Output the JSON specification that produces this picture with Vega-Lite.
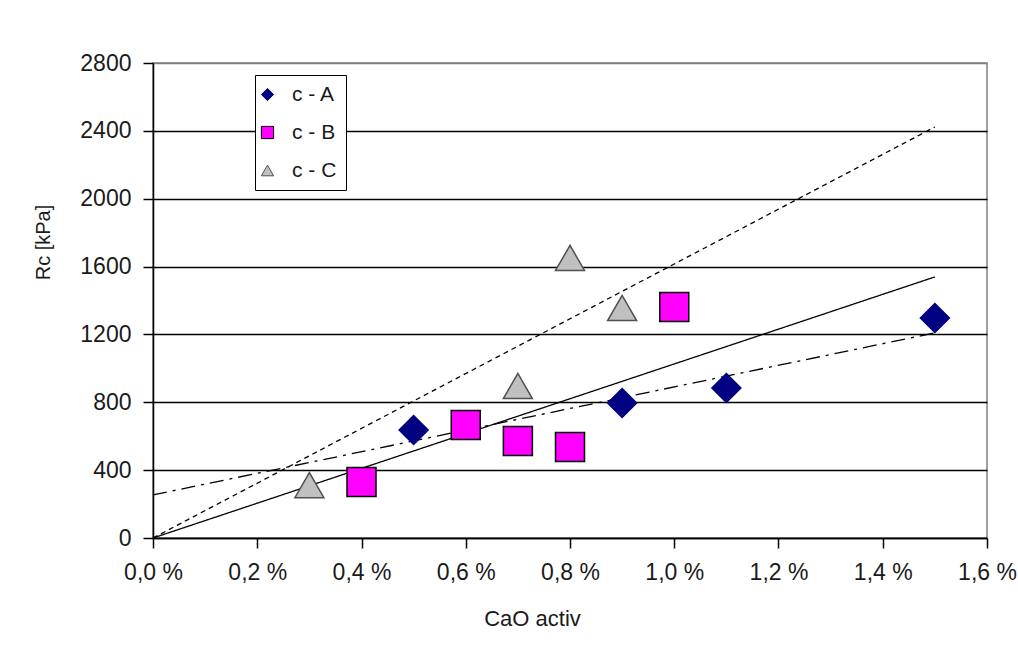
{
  "$schema": "https://vega.github.io/schema/vega-lite/v6.json",
  "width": 834,
  "height": 475,
  "autosize": {"type": "none"},
  "padding": {"left": 153, "top": 63, "right": 31, "bottom": 112},
  "background": "white",
  "config": {
    "view": {"stroke": "#808080", "strokeWidth": 1.5},
    "font": "Liberation Sans",
    "legend": {
      "title": null, "orient": "none", "legendX": 102, "legendY": 12,
      "strokeColor": "black", "fillColor": "white", "padding": 9,
      "labelFontSize": 21, "labelColor": "#1a1a1a", "labelOffset": 14,
      "symbolOffset": -7,
      "symbolSize": 150, "symbolStrokeWidth": 1, "rowPadding": 16
    }
  },
  "datasets": {
    "lines": [
      {"fit": "solid", "x": 0, "y": 0},
      {"fit": "solid", "x": 1.5, "y": 1539},
      {"fit": "dash", "x": 0, "y": 0},
      {"fit": "dash", "x": 1.5, "y": 2423},
      {"fit": "dashdot", "x": 0, "y": 254},
      {"fit": "dashdot", "x": 1.5, "y": 1209}
    ],
    "points": [
      {"series": "c - A", "x": 0.5, "y": 637},
      {"series": "c - A", "x": 0.9, "y": 796},
      {"series": "c - A", "x": 1.1, "y": 884},
      {"series": "c - A", "x": 1.5, "y": 1297},
      {"series": "c - B", "x": 0.4, "y": 330},
      {"series": "c - B", "x": 0.6, "y": 666},
      {"series": "c - B", "x": 0.7, "y": 572},
      {"series": "c - B", "x": 0.8, "y": 537},
      {"series": "c - B", "x": 1.0, "y": 1362},
      {"series": "c - C", "x": 0.3, "y": 312},
      {"series": "c - C", "x": 0.7, "y": 896},
      {"series": "c - C", "x": 0.8, "y": 1651},
      {"series": "c - C", "x": 0.9, "y": 1356}
    ]
  },
  "encoding": {
    "x": {
      "field": "x", "type": "quantitative",
      "scale": {"domain": [0, 1.6], "nice": false, "zero": false},
      "axis": {
        "title": "CaO activ",
        "values": [0, 0.2, 0.4, 0.6, 0.8, 1.0, 1.2, 1.4, 1.6],
        "labelExpr": "replace(format(datum.value, '.1f'), '.', ',') + ' %'",
        "grid": false,
        "domainColor": "black", "domainWidth": 1.5,
        "tickColor": "black", "tickWidth": 1.5, "tickSize": 10,
        "labelFontSize": 23, "labelColor": "#1a1a1a", "labelPadding": 13,
        "labelFlush": false, "labelOverlap": false,
        "titleFontSize": 22, "titleFontWeight": "normal", "titleColor": "#1a1a1a",
        "titleX": 379, "titleY": 80, "titleBaseline": "middle", "titleAlign": "center"
      }
    },
    "y": {
      "field": "y", "type": "quantitative",
      "scale": {"domain": [0, 2800], "nice": false},
      "axis": {
        "title": "Rc [kPa]",
        "values": [0, 400, 800, 1200, 1600, 2000, 2400, 2800],
        "format": "d",
        "grid": true,
        "gridColor": {"condition": {"test": "datum.value == 2800", "value": "#808080"}, "value": "black"},
        "gridWidth": 1.5, "gridOpacity": 1,
        "domainColor": "black", "domainWidth": 1.5,
        "tickColor": "black", "tickWidth": 1.5, "tickSize": 10,
        "labelFontSize": 23, "labelColor": "#1a1a1a", "labelPadding": 12,
        "labelFlush": false, "labelOverlap": false,
        "titleFontSize": 20, "titleFontWeight": "normal", "titleColor": "#1a1a1a",
        "titleX": -110, "titleY": 179, "titleAngle": -90, "titleBaseline": "middle", "titleAlign": "center"
      }
    }
  },
  "layer": [
    {
      "data": {"name": "lines"},
      "mark": {"type": "line", "color": "black", "strokeWidth": 1.3},
      "encoding": {
        "detail": {"field": "fit", "type": "nominal"},
        "strokeDash": {
          "field": "fit", "type": "nominal",
          "scale": {"domain": ["solid", "dash", "dashdot"], "range": [[1, 0], [5, 4], [14, 6, 3, 6]]},
          "legend": null
        }
      }
    },
    {
      "data": {"name": "points"},
      "mark": {"type": "point", "filled": true, "size": 841, "strokeWidth": 1.5, "opacity": 1},
      "encoding": {
        "shape": {
          "field": "series", "type": "nominal",
          "scale": {"domain": ["c - A", "c - B", "c - C"], "range": ["diamond", "square", "triangle-up"]},
          "legend": {"labelExpr": "datum.label + '\u2007'"}
        },
        "fill": {
          "field": "series", "type": "nominal",
          "scale": {"domain": ["c - A", "c - B", "c - C"], "range": ["#000080", "#FF00FF", "#C0C0C0"]},
          "legend": {"labelExpr": "datum.label + '\u2007'"}
        },
        "stroke": {
          "field": "series", "type": "nominal",
          "scale": {"domain": ["c - A", "c - B", "c - C"], "range": ["#000080", "#000000", "#505050"]},
          "legend": {"labelExpr": "datum.label + '\u2007'"}
        }
      }
    }
  ]
}
